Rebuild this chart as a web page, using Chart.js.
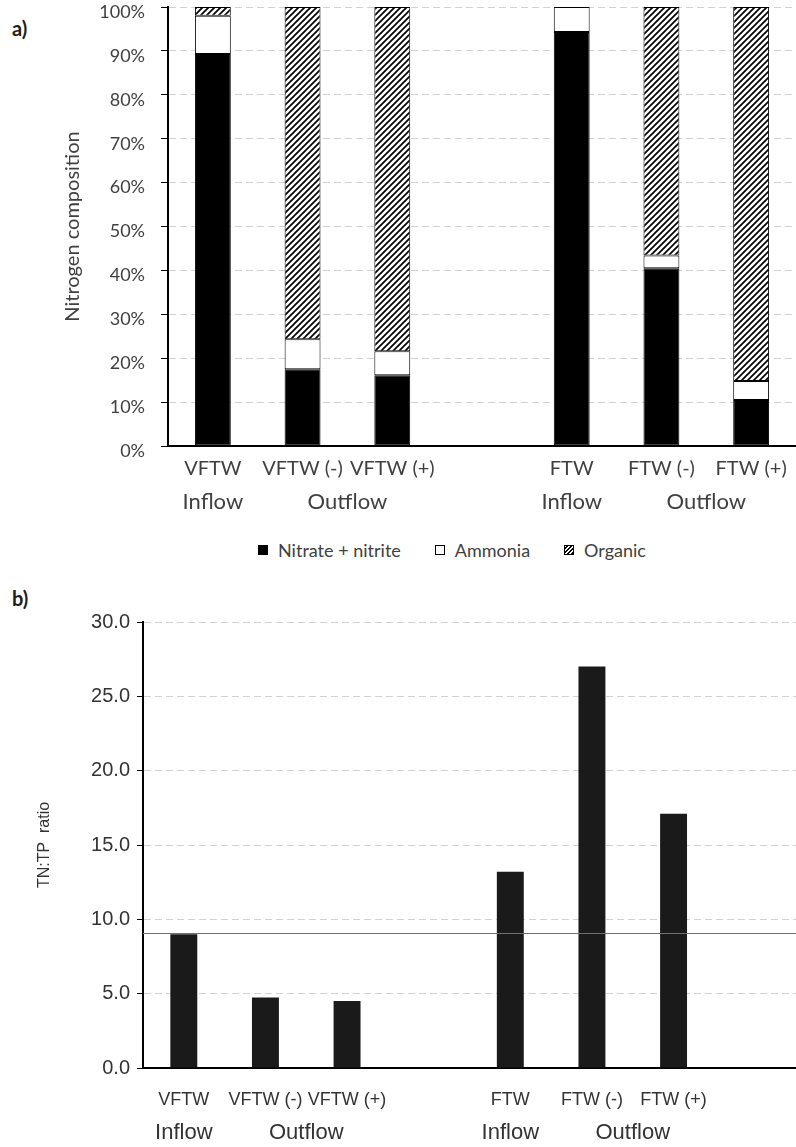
<!DOCTYPE html>
<html>
<head>
<meta charset="utf-8">
<script src="https://cdn.jsdelivr.net/npm/chart.js@4.4.1/dist/chart.umd.min.js"></script>
<style>
  html,body{margin:0;padding:0;background:#fff;}
  body{width:796px;height:1147px;position:relative;overflow:hidden;font-family:'Liberation Sans',Arial,sans-serif;}
  .panel{position:absolute;left:0;width:796px;}
  #wrapA{top:0;height:530px;}
  #wrapB{top:590px;height:557px;}
  .tag{position:absolute;left:12px;font-weight:bold;font-size:20px;color:#1e1e1e;font-family:Lato,'Liberation Sans',sans-serif;}
  #legendA{position:absolute;top:539px;left:258px;display:flex;align-items:center;font-family:Lato,'Liberation Sans',sans-serif;font-size:18px;color:#404040;white-space:nowrap;}
  #legendA span{display:inline-flex;align-items:center;margin-right:34px;}
  #legendA i{display:inline-block;width:10px;height:10px;border:1px solid #000;margin-right:10px;box-sizing:border-box;}
</style>
</head>
<body>
<div class="tag" style="top:16px">a)</div>
<div class="panel" id="wrapA"><canvas id="cA"></canvas></div>
<div id="legendA"></div>
<div class="tag" style="top:586px">b)</div>
<div class="panel" id="wrapB"><canvas id="cB"></canvas></div>

<script>
/* ── 데이터 ───────────────────────────────────────── */
const CATS_A   = ['VFTW','VFTW (-)','VFTW (+)','','FTW','FTW (-)','FTW (+)'];
const NITRATE  = [89.3, 17.5, 16.1, null, 94.3, 40.5, 10.5];
const AMMONIA  = [ 8.7,  6.8,  5.5, null,  5.7,  2.9,  4.3];
const ORGANIC  = [ 2.0, 75.7, 78.4, null,  0.0, 56.6, 85.2];
const SERIES_A = ['Nitrate + nitrite','Ammonia','Organic'];
const GROUPS_A = [['Inflow',0,0],['Outflow',1,2],['Inflow',4,4],['Outflow',5,6]];

const CATS_B   = ['VFTW','VFTW (-)','VFTW (+)','','FTW','FTW (-)','FTW (+)',''];
const TNTP     = [9.0, 4.75, 4.5, null, 13.2, 27.0, 17.1, null];
const TNTP_REF = 9.1;
const GROUPS_B = [['Inflow',0,0],['Outflow',1,2],['Inflow',4,4],['Outflow',5,6]];

const FONT_A = "Lato, 'Liberation Sans', sans-serif";
const FONT_B = "'Liberation Sans', Arial, sans-serif";
const GRID   = '#d2d2d2';

/* ── 빗금 패턴 (Organic) ────────────────────────────────── */
function hatch(){
  const c = document.createElement('canvas'); c.width = c.height = 6;
  const g = c.getContext('2d');
  g.fillStyle = '#fff'; g.fillRect(0,0,6,6);
  g.strokeStyle = '#000'; g.lineWidth = 1.7;
  g.beginPath();
  g.moveTo(-1,1); g.lineTo(1,-1);
  g.moveTo(-1,7); g.lineTo(7,-1);
  g.moveTo(5,7);  g.lineTo(7,5);
  g.stroke();
  return g.createPattern(c,'repeat');
}

/* ── 두번째 줄 라벨 (Inflow / Outflow) ─────────────────── */
function groupLabelPlugin(rows, offset, font, color){
  return {
    id:'groupLabels',
    afterDraw(chart){
      const { ctx, scales:{ x } } = chart;
      ctx.save();
      ctx.font = font; ctx.fillStyle = color;
      ctx.textAlign = 'center'; ctx.textBaseline = 'middle';
      rows.forEach(([text, from, to]) => {
        const px = (x.getPixelForValue(from) + x.getPixelForValue(to)) / 2;
        ctx.fillText(text, px, x.top + offset);
      });
      ctx.restore();
    }
  };
}

/* ── TN:TP 기준선 ───────────────────────────────────────── */
const refLinePlugin = {
  id:'refLine',
  afterDatasetsDraw(chart){
    const { ctx, chartArea, scales:{ y } } = chart;
    const py = Math.round(y.getPixelForValue(TNTP_REF)) + 0.5;
    ctx.save();
    ctx.strokeStyle = '#707070'; ctx.lineWidth = 1.2;
    ctx.beginPath(); ctx.moveTo(chartArea.left, py); ctx.lineTo(chartArea.right, py); ctx.stroke();
    ctx.restore();
  }
};

function noPad(s){ s.paddingTop = 0; s.paddingBottom = 0; s.paddingLeft = 0; s.paddingRight = 0; }

Chart.defaults.font.family = FONT_B;
Chart.defaults.animation = false;

/* ── a) 질소 구성 ──────────────────────────────────────── */
const PAT = hatch();
const FILLS_A = ['#000', '#fff', PAT];
const VALUES_A = [NITRATE, AMMONIA, ORGANIC];

new Chart(document.getElementById('cA'), {
  type:'bar',
  data:{
    labels:CATS_A,
    datasets:SERIES_A.map((label,i)=>({
      label, data:VALUES_A[i], backgroundColor:FILLS_A[i],
      borderColor:'#000', borderWidth:1, borderSkipped:false,
      barPercentage:0.4, categoryPercentage:1
    }))
  },
  plugins:[groupLabelPlugin(GROUPS_A, 56, "22px " + FONT_A, '#404040')],
  options:{
    responsive:true, maintainAspectRatio:false,
    layout:{ padding:{ top:7, left:61, right:0, bottom:0 } },
    plugins:{ legend:{display:false}, tooltip:{enabled:false} },
    scales:{
      x:{
        stacked:true,
        grid:{ display:false, drawTicks:false },
        border:{ color:'#000', width:2 },
        ticks:{ font:{size:20, family:FONT_A}, color:'#404040', padding:11, autoSkip:false, maxRotation:0 },
        afterFit:s=>{ s.height = 84; noPad(s); }
      },
      y:{
        stacked:true, min:0, max:100,
        ticks:{ stepSize:10, callback:v=>v+'%', font:{size:18, family:FONT_A}, color:'#404040', padding:16, labelOffset:5 },
        grid:{ color:GRID, tickLength:7, tickColor:'#000', tickWidth:1, tickBorderDash:[] },
        border:{ color:'#000', width:2, dash:[7,4] },
        title:{ display:true, text:'Nitrogen composition', font:{size:20, family:FONT_A}, color:'#404040', padding:0 },
        afterFit:s=>{ s.width = 168 - 61; noPad(s); }
      }
    }
  }
});

document.getElementById('legendA').innerHTML = SERIES_A.map((n,i)=>{
  const bg = i === 2 ? 'background:repeating-linear-gradient(-45deg,#000 0 1.5px,#fff 1.5px 3px)' : `background:${FILLS_A[i]}`;
  return `<span><i style="${bg}"></i>${n}</span>`;
}).join('');

/* ── b) TN:TP 비율 ─────────────────────────────────────── */
new Chart(document.getElementById('cB'), {
  type:'bar',
  data:{
    labels:CATS_B,
    datasets:[{ label:'TN:TP ratio', data:TNTP, backgroundColor:'#1a1a1a', borderWidth:0,
      barPercentage:0.33, categoryPercentage:1 }]
  },
  plugins:[groupLabelPlugin(GROUPS_B, 65, "22px " + FONT_B, '#333'), refLinePlugin],
  options:{
    responsive:true, maintainAspectRatio:false,
    layout:{ padding:{ top:32, left:35, right:0, bottom:0 } },
    plugins:{ legend:{display:false}, tooltip:{enabled:false} },
    scales:{
      x:{
        grid:{ display:false, drawTicks:false },
        border:{ color:'#000', width:2 },
        ticks:{ font:{size:18}, color:'#333', padding:21, autoSkip:false, maxRotation:0 },
        afterFit:s=>{ s.height = 79; noPad(s); }
      },
      y:{
        min:0, max:30,
        ticks:{ stepSize:5, callback:v=>v.toFixed(1), font:{size:20}, color:'#333', padding:7 },
        grid:{ color:GRID, tickLength:6, tickColor:'#000', tickWidth:1, tickBorderDash:[] },
        border:{ color:'#000', width:2, dash:[7,4] },
        title:{ display:true, text:'TN:TP  ratio', font:{size:16}, color:'#333', padding:0 },
        afterFit:s=>{ s.width = 143 - 35; noPad(s); }
      }
    }
  }
});
</script>
</body>
</html>
